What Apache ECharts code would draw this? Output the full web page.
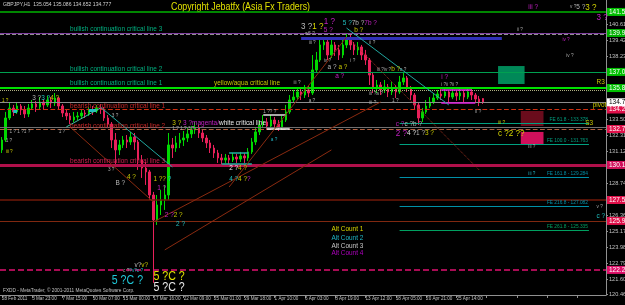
<!DOCTYPE html>
<html><head><meta charset="utf-8">
<script src="https://cdn.jsdelivr.net/npm/echarts@6/dist/echarts.min.js"></script>
<style>html,body{margin:0;padding:0;background:#000;overflow:hidden}#c{width:625px;height:305px}</style>
</head><body><div id="c"></div>
<script>
// ---------- data ----------
const xTickLabels = ['28 Feb 2011','3 Mar 23:00','7 Mar 15:00','10 Mar 07:00','15 Mar 00:00','17 Mar 16:00','22 Mar 09:00','25 Mar 01:00','29 Mar 18:00','1 Apr 10:00','6 Apr 03:00','8 Apr 19:00','13 Apr 12:00','18 Apr 05:00','20 Apr 21:00','25 Apr 14:00'];
const barsPerLabel = 8;
const totalSlots = 160;
const yTickValues = [120.460,121.605,122.795,123.985,125.175,126.365,127.555,128.740,129.930,131.120,132.310,133.500,134.690,135.880,137.070,138.230,139.420,140.610];

const opens = [131.23,131.97,133.61,134.35,134.06,134.50,134.21,133.91,134.35,134.65,134.43,134.80,134.58,134.95,134.73,135.10,134.50,133.98,133.76,133.46,133.68,133.76,133.98,133.91,134.21,134.13,134.35,134.28,133.61,133.16,131.97,131.23,131.60,131.97,131.82,132.19,131.82,130.48,129.88,129.59,127.87,126.01,127.13,127.50,127.87,131.60,131.37,131.75,131.97,132.12,132.42,132.72,132.86,132.49,132.12,131.75,131.37,131.00,130.63,130.48,130.63,130.48,130.70,130.55,130.78,130.63,131.08,131.82,132.57,133.09,133.31,133.01,133.46,133.16,132.94,133.46,134.06,134.95,135.17,135.55,135.32,135.70,135.47,137.19,137.93,139.05,139.27,138.30,139.05,138.68,138.30,139.05,139.57,139.05,138.68,138.90,138.30,137.93,136.81,135.84,136.07,135.70,135.92,135.55,135.84,135.55,136.29,136.59,135.84,135.32,134.58,133.61,134.06,134.50,134.80,135.10,135.40,135.25,135.55,135.17,135.47,135.25,135.47,135.17,135.55,135.32,135.02,135.054];
const closes = [131.97,133.61,134.35,134.06,134.50,134.21,133.91,134.35,134.65,134.43,134.80,134.58,134.95,134.73,135.10,134.50,133.98,133.76,133.46,133.68,133.76,133.98,133.91,134.21,134.13,134.35,134.28,133.61,133.16,131.97,131.23,131.60,131.97,131.82,132.19,131.82,130.48,129.88,129.59,127.87,126.01,127.13,127.50,127.87,131.60,131.37,131.75,131.97,132.12,132.42,132.72,132.86,132.49,132.12,131.75,131.37,131.00,130.63,130.48,130.63,130.48,130.70,130.55,130.78,130.63,131.08,131.82,132.57,133.09,133.31,133.01,133.46,133.16,132.94,133.46,134.06,134.95,135.17,135.55,135.32,135.70,135.47,137.19,137.93,139.05,139.27,138.30,139.05,138.68,138.30,139.05,139.57,139.05,138.68,138.90,138.30,137.93,136.81,135.84,136.07,135.70,135.92,135.55,135.84,135.55,136.29,136.59,135.84,135.32,134.58,133.61,134.06,134.50,134.80,135.10,135.40,135.25,135.55,135.17,135.47,135.25,135.47,135.17,135.55,135.32,135.02,134.80,134.777];
const lows = [131.00,131.82,133.46,133.76,133.91,133.83,133.61,133.68,134.21,134.06,134.28,134.21,134.43,134.35,134.50,134.21,133.68,133.46,133.16,133.31,133.46,133.61,133.61,133.76,133.83,133.98,133.91,133.39,132.86,131.37,130.11,130.85,131.37,131.37,131.60,131.23,129.74,129.14,128.62,127.50,121.32,125.64,126.38,126.76,127.50,130.63,131.08,131.37,131.52,131.82,132.12,132.42,132.12,131.82,131.37,131.00,130.63,130.26,130.18,130.26,130.18,130.33,130.26,130.33,130.26,130.41,130.93,131.60,132.34,132.86,132.72,132.86,132.79,132.64,132.79,133.31,133.91,134.73,134.95,134.95,135.10,135.17,135.32,137.04,137.78,138.68,137.93,138.08,138.23,137.93,138.08,138.82,138.68,138.30,138.30,137.93,137.56,136.07,135.47,135.47,135.32,135.47,135.17,135.32,135.10,135.40,136.07,135.55,134.95,134.21,133.09,133.31,133.91,134.35,134.65,134.95,134.95,135.10,134.73,135.02,134.88,134.95,134.80,135.02,134.95,134.73,134.50,134.652];
const highs = [132.19,134.06,134.73,134.58,134.80,134.65,134.50,134.65,134.95,134.88,135.17,135.02,135.25,135.17,135.47,135.17,134.65,134.21,133.98,134.06,134.06,134.28,134.21,134.43,134.50,134.58,134.65,134.43,133.83,133.31,132.49,131.97,132.27,132.34,132.57,132.49,131.97,130.85,130.33,129.74,128.10,127.87,128.24,128.62,132.49,132.12,132.27,132.49,132.64,132.86,133.01,133.31,133.09,132.72,132.34,131.97,131.60,131.23,130.93,130.93,130.85,131.00,130.93,131.08,131.00,131.37,132.12,132.86,133.46,133.83,133.61,133.83,133.68,133.46,133.76,134.58,135.32,135.70,135.92,135.84,136.07,135.99,138.30,138.53,139.42,139.64,139.42,139.42,139.27,139.05,139.42,139.94,139.79,139.27,139.27,139.05,138.68,138.08,137.04,136.44,136.29,136.44,136.14,136.29,136.07,136.74,137.04,136.74,135.99,135.47,134.73,134.35,134.95,135.17,135.47,135.70,135.77,135.84,135.70,135.77,135.70,135.84,135.70,135.84,135.77,135.47,135.25,135.086];

const bidPrice = 134.777;
// full-width horizontal levels
const levelValues = [141.51, 139.94, 139.87, 137.04, 135.84, 135.70, 134.24, 132.94, 132.79, 130.11, 127.50, 125.94, 122.29];
// Fibonacci expansion levels
const feValues = [133.24, 131.67, 129.21, 127.05, 125.27];
const feTexts = ['FE 61.8 - 133.378','FE 100.0 - 131.763','FE 161.8 - 129.284','FE 216.8 - 127.082','FE 261.8 - 125.335'];
const feRange = [105, 155];

// short segments [x1, x2, price]
const segValues = [[79,132,139.57],[3,4,134.13],[23,25,134.17],[60,65,131.00],[58,66,130.18],[69,75,133.83],[70,76,132.79],[116,124,135.70],[116,125,134.73]];
// trend lines [x1,p1,x2,p2]
const trendValues = [[26,134.43,45,129.96],[91,140.31,118,134.58],[92,139.42,126,129.74],[40,125.86,100,134.80],[17,132.94,26,134.35],[43,123.78,87,131.23],[18,132.94,40,127.35],[60,128.47,91,139.64]];
// zones [x1,p1,x2,p2]
const zoneValues = [[131,137.48,138,136.14],[137,134.13,143,133.01],[137,132.57,143,131.60]];

// text labels: [x index, price, text]
const notes = [
 [18,140.24,'{t|bullish continuation critical line 3}'],
 [18,137.26,'{t|bullish continuation critical line 2}'],
 [18,136.19,'{t|bullish continuation critical line 1}'],
 [56,136.19,'{y|yellow/aqua critical line}'],
 [18,134.53,'{r|bearish continuation critical line 1}'],
 [18,133.05,'{r|bearish continuation critical line 2}'],
 [18,130.43,'{p|bearish continuation critical line 3}'],
 [45,133.24,'{y|3 ?}{m| 3 ?magenta/}{w|white critical line}'],
 [87,125.34,'{yl|Alt Count 1}'],
 [87,124.71,'{cl|Alt Count 2}'],
 [87,124.11,'{gl|Alt Count 3}'],
 [87,123.55,'{ml|Alt Count 4}'],
 [156,134.61,'{y|pivot}'],
 [157,136.29,'{y|R3}'],
 [154,133.24,'{y|S3}'],
 [79,140.46,'{gb|3 ?}{yb|1 ?}'],
 [85,140.84,'{mb|1 ?}'],
 [85,140.20,'{m|5 ?}'],
 [90,140.69,'{c|5 ?}{g|7b ?}{m|7b ?}'],
 [93,140.20,'{y|b ?}'],
 [80,139.87,'{s|w5 ?}'],
 [81,139.27,'{s|iii ?}'],
 [85,137.86,'{s|iv ?}'],
 [86,137.41,'{g|a ?}{y| a ?}'],
 [88,136.74,'{m|a ?}'],
 [92,137.93,'{s|i ?}'],
 [97,139.20,'{s|ii ?}'],
 [99,137.26,'{s|iii ?iv ?}{y|b ?}{s|c ?}'],
 [136,140.24,'{s|ii ?}'],
 [139,141.88,'{m|iii ?}'],
 [150,141.88,'{s|v ?}{g|5 ?}{yb|3 ?}'],
 [157,141.10,'{mb|3 ?}'],
 [148,139.49,'{ms|iv ?}'],
 [149,138.23,'{s|iv ?}'],
 [116,136.66,'{m|i ?}'],
 [116,136.14,'{s|i ?ii ?ii ?}'],
 [97,135.40,'{s|iii ?a ?}'],
 [97,134.80,'{s|iii ?}'],
 [103,134.95,'{s|1 ?}'],
 [104,133.16,'{m|c ?}{g|c ?b ?}'],
 [104,132.49,'{mb|2 ?}{w|4 ?}{g|1 ?}{y|3 ?}'],
 [131,133.24,'{ys|iii ?}'],
 [131,132.49,'{yb|c ?2 ??}'],
 [125,134.06,'{s|ii ?}'],
 [139,131.45,'{s|iii ?}'],
 [139,129.44,'{cs|iii ?}'],
 [157,126.98,'{s|v ?}'],
 [157,126.31,'{c|c ?}'],
 [8,135.10,'{g|3 ?}{c|3 ?}{y|4 ?}'],
 [0,134.88,'{ys|1 ?}'],
 [2,132.64,'{s|1 ? 1 ?1 ?}'],
 [15,132.64,'{s|1 ?}'],
 [29,133.83,'{s|3 ?}'],
 [1,131.90,'{s|1 ?}'],
 [1,131.08,'{ys|iii ?}'],
 [28,129.74,'{s|3 ?}'],
 [33,129.21,'{y|4 ?}'],
 [30,128.77,'{g|B ?}'],
 [40,129.06,'{y|1 ??}{c| ?}'],
 [41,128.39,'{m|1 ?}'],
 [43,126.38,'{m|2 ?}{y|2 ?}'],
 [46,125.71,'{c|2 ?}'],
 [35,122.66,'{g|v?}{y|v?}'],
 [32,122.21,'{s|c ?}{cs|?v?c ?}'],
 [29,121.47,'{cx|5 ?C ?}'],
 [40,121.76,'{yx|5 ?C ?}'],
 [40,120.94,'{wx|5 ?C ?}'],
 [60,129.88,'{w|2 ?}{y|4 ?}'],
 [60,129.06,'{c|4 ?}{y|4 ?}{m|?}'],
 [45,132.79,'{s|1 ? 1 ? 3 ?}'],
 [71,131.97,'{cs|a ?}'],
 [77,136.29,'{s|iii ?}'],
 [81,134.95,'{s|a ?}'],
 [69,134.06,'{s|1 ?? ?}']
];

// ---------- chart ----------
const categories = [];
for (let i = 0; i < totalSlots; i++) categories.push(i % barsPerLabel === 0 && xTickLabels[i / barsPerLabel] ? xTickLabels[i / barsPerLabel] : '');
const candleData = opens.map((o, i) => [o, closes[i], lows[i], highs[i]]);

const NF = '"Liberation Sans",Arial,sans-serif';
const SX = 0.85;
function lvl(v, color, width, type, box, boxText) {
  const d = { yAxis: v, lineStyle: { color: color, width: width, type: type } };
  d.label = box ? { show: true, position: 'end', distance: 1, backgroundColor: box, color: boxText || '#fff', fontSize: 6.5, fontFamily: NF, padding: [1, 2, 0, 2], formatter: p => p.value.toFixed(3) } : { show: false };
  return d;
}
const levelStyles = [
  ['#00b400', 1.5, 'solid', '#00c000'],
  ['#8040a0', 1, 'solid', '#00b000'],
  ['#909090', 1, 'dashed', null],
  ['#00a050', 1, 'solid', '#00c000'],
  ['#00e000', 2, 'solid', '#00c000'],
  ['#b0b080', 1, 'dotted', null],
  ['#d03010', 1.2, 'dashed', '#e0104a'],
  ['#707070', 1, 'solid', null],
  ['#b06040', 1.2, 'dashed', '#e0104a'],
  ['#b0104a', 3, 'solid', '#d0105a'],
  ['#701808', 1.5, 'solid', '#e0104a'],
  ['#802810', 1, 'solid', '#e0104a'],
  ['#e01070', 1.5, 'dashed', '#e0106a']
];
const mlData = levelValues.map((v, i) => lvl(v, levelStyles[i][0], levelStyles[i][1], levelStyles[i][2], levelStyles[i][3]));
mlData.push(lvl(bidPrice, '#8c8c8c', 1, 'solid', '#ffffff', '#000'));
const feColors = ['#00a080', '#00a080', '#0090a8', '#0090a8', '#00a060'];
feValues.forEach((v, i) => {
  mlData.push([{ coord: [feRange[0], v], lineStyle: { color: feColors[i], width: 1, type: 'solid' }, label: { show: true, position: 'insideEndTop', distance: 1, color: feColors[i], fontSize: 4.8, fontFamily: NF, formatter: feTexts[i] } }, { coord: [feRange[1], v] }]);
});
const segColors = [['#3030b8', 3], ['#20c0c0', 3], ['#20c0c0', 3], ['#20b0a0', 1.5], ['#20b0a0', 1.5], ['#e0e0e0', 1.5], ['#ffffff', 1.5], ['#e020e0', 1.5], ['#e020e0', 1.5]];
segValues.forEach((s, i) => {
  mlData.push([{ coord: [s[0], s[2]], lineStyle: { color: segColors[i][0], width: segColors[i][1], type: 'solid' }, label: { show: false } }, { coord: [s[1], s[2]] }]);
});
const trendStyles = [['#20a8a0', 'solid'], ['#20a8a0', 'solid'], ['#a03020', 'dotted'], ['#8a2a10', 'solid'], ['#40c0a0', 'solid'], ['#8a2a10', 'solid'], ['#8a2a10', 'solid'], ['#8a2a10', 'solid']];
trendValues.forEach((t, i) => {
  mlData.push([{ coord: [t[0], t[1]], lineStyle: { color: trendStyles[i][0], width: 1, type: trendStyles[i][1] }, label: { show: false } }, { coord: [t[2], t[3]] }]);
});
const zoneColors = ['#008858', '#6a0c1c', '#d0105c'];
const maData = zoneValues.map((z, i) => [{ coord: [z[0], z[1]], itemStyle: { color: zoneColors[i], opacity: 1 } }, { coord: [z[2], z[3]] }]);

const richDef = {
  t: ['#00b080', 7.6], y: ['#c8c800', 7.6], r: ['#c82828', 7.6], p: ['#d02050', 7.6],
  m: ['#c020c0', 7.6], w: ['#e8e8e8', 7.6], g: ['#b8b8b8', 7.6], c: ['#20c0c0', 7.6],
  s: ['#a8a8a8', 5.5], ys: ['#c8c800', 5.5], cs: ['#20b0c0', 5.5], ms: ['#c020c0', 5.5],
  yl: ['#d8d800', 7.6], cl: ['#20b8c8', 7.6], gl: ['#c8c8c8', 7.6], ml: ['#b000c0', 7.6],
  gb: ['#b8b8b8', 9.5], yb: ['#d8d800', 9.5], mb: ['#c020c0', 9.5],
  cx: ['#20c8d8', 12.5], yx: ['#e0e000', 12.5], wx: ['#e8e8e8', 12.5]
};
const rich = {};
Object.keys(richDef).forEach(k => rich[k] = { fill: richDef[k][0], fontSize: richDef[k][1], fontFamily: NF });

const fixedTexts = [
  { type: 'text', id: 'hdr', x: 3, y: 1, scaleX: SX, style: { text: 'GBPJPY,H1  135.054 135.086 134.652 134.777', fill: '#d0d0d0', fontSize: 6, fontFamily: NF } },
  { type: 'text', id: 'copy', x: 171, y: 2, scaleX: SX, style: { text: 'Copyright Jebatfx (Asia Fx Traders)', fill: '#e0e000', fontSize: 10.4, fontFamily: NF } },
  { type: 'text', id: 'foot', x: 3, y: 287, scaleX: SX, style: { text: 'FXDD - MetaTrader, © 2001-2011 MetaQuotes Software Corp.', fill: '#c0c0c0', fontSize: 5.6, fontFamily: NF } }
];

const chart = echarts.init(document.getElementById('c'), null, { renderer: 'canvas' });
chart.setOption({
  backgroundColor: '#000',
  animation: false,
  grid: { left: 0, right: 19, top: 0, bottom: 10, containLabel: false, outerBoundsMode: 'none' },
  graphic: fixedTexts,
  xAxis: {
    type: 'category', data: categories, boundaryGap: true,
    axisLine: { lineStyle: { color: '#909090' } },
    axisTick: { show: true, interval: barsPerLabel - 1, alignWithLabel: true, length: 3, lineStyle: { color: '#909090' } },
    axisLabel: { interval: barsPerLabel - 1, color: '#c0c0c0', fontSize: 4.6, fontFamily: NF, margin: 1, align: 'left', showMinLabel: true, hideOverlap: false },
    splitLine: { show: false }
  },
  yAxis: {
    type: 'value', position: 'right', min: 120.42, max: 142.40, scale: true,
    axisLine: { show: true, lineStyle: { color: '#909090' } },
    axisTick: { show: true, length: 2, customValues: yTickValues, lineStyle: { color: '#909090' } },
    axisLabel: { color: '#c0c0c0', fontSize: 5.6, fontFamily: NF, margin: 3, customValues: yTickValues, formatter: v => v.toFixed(3), hideOverlap: false },
    splitLine: { show: false }
  },
  series: [
    {
      type: 'candlestick', data: candleData, barWidth: 2,
      itemStyle: { color: '#00d800', color0: '#e8205a', borderColor: '#00d800', borderColor0: '#e8205a', borderWidth: 1 },
      markLine: { silent: true, symbol: ['none', 'none'], animation: false, data: mlData },
      markArea: { silent: true, data: maData }
    }
  ]
});

// annotation texts, placed through the chart's own scales
const noteGraphics = notes.map((n, i) => {
  const pt = chart.convertToPixel({ seriesIndex: 0 }, [n[0], n[1]]);
  return { type: 'text', id: 'n' + i, x: pt[0], y: pt[1], scaleX: SX, silent: true, z: 10,
    style: { text: n[2], rich: rich, fontFamily: NF, fontSize: 7, verticalAlign: 'middle', align: 'left' } };
});
chart.setOption({ graphic: fixedTexts.concat(noteGraphics) });
</script></body></html>
